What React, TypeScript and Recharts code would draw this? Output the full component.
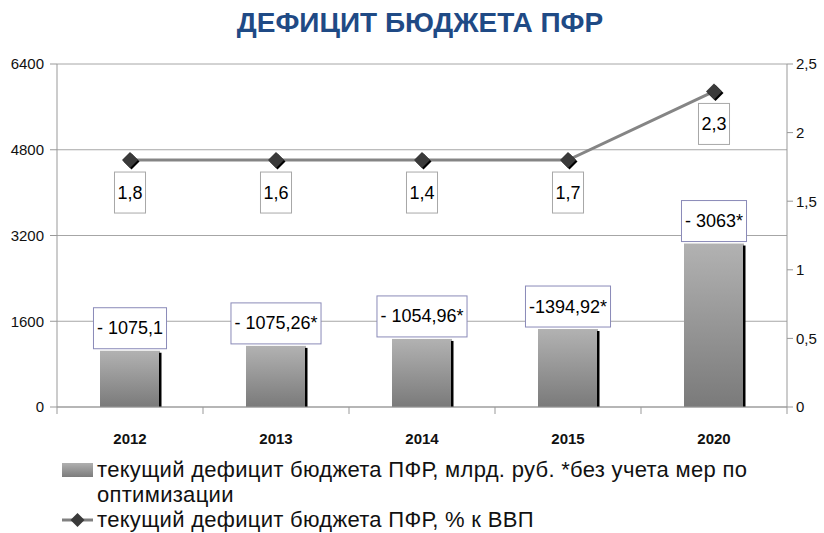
import React from "react";
import {
  Bar,
  CartesianGrid,
  ComposedChart,
  LabelList,
  Legend,
  Line,
  XAxis,
  YAxis
} from "recharts";

// Years on the category axis
const years = ["2012", "2013", "2014", "2015", "2020"];
// Bar heights as drawn (bn rub.)
const deficitBn = [1050, 1140, 1270, 1455, 3050];
// Bar captions as printed
const deficitBnLabels = ["- 1075,1", "- 1075,26*", "- 1054,96*", "-1394,92*", "- 3063*"];
// Line points as drawn (% of GDP)
const deficitGdp = [1.8, 1.8, 1.8, 1.8, 2.3];
// Line captions as printed
const deficitGdpLabels = ["1,8", "1,6", "1,4", "1,7", "2,3"];

const leftTicks = [0, 1600, 3200, 4800, 6400];
const rightTicks = [0, 0.5, 1, 1.5, 2, 2.5];

const data = years.map((year, i) => ({
  year,
  bn: deficitBn[i],
  bnLabel: deficitBnLabels[i],
  gdp: deficitGdp[i],
  gdpLabel: deficitGdpLabels[i]
}));

const FONT = '"Liberation Sans", Arial, sans-serif';

// rough text width of the caption strings (Liberation Sans metrics)
function textWidth(s: string, size: number): number {
  let w = 0;
  for (const ch of s) {
    if (/[0-9]/.test(ch)) w += 0.556;
    else if (ch === "*") w += 0.389;
    else if (ch === "-") w += 0.333;
    else w += 0.278;
  }
  return w * size;
}

function BarShape(props: any) {
  const { x, y, width, height } = props;
  if (height <= 0) return null;
  return (
    <g>
      <rect x={x} y={y} width={width} height={height} fill="url(#barGrad)" />
      <rect x={x + width - 1} y={y + 2} width={2.5} height={height - 2} fill="#000" />
    </g>
  );
}

function BarLabelBox(props: any) {
  const { x, y, width, value } = props;
  const w = textWidth(String(value), 18) + 7;
  const h = 41;
  const cx = x + width / 2;
  const top = y - 2 - h;
  return (
    <g>
      <rect x={cx - w / 2} y={top} width={w} height={h} fill="#fff" stroke="#8a8ab8" strokeWidth={1} />
      <text x={cx} y={top + h / 2 + 6} textAnchor="middle" style={{ fontFamily: FONT }} fontSize={18} fill="#000">
        {value}
      </text>
    </g>
  );
}

function LineLabelBox(props: any) {
  const { x, y, value } = props;
  const w = textWidth(String(value), 18) + 6;
  const h = 41;
  const top = y + 12;
  return (
    <g>
      <rect x={x - w / 2} y={top} width={w} height={h} fill="#fff" stroke="#a8a8a8" strokeWidth={1} />
      <text x={x} y={top + h / 2 + 6} textAnchor="middle" style={{ fontFamily: FONT }} fontSize={18} fill="#000">
        {value}
      </text>
    </g>
  );
}

function Diamond(props: any) {
  const { cx, cy } = props;
  if (cx == null || cy == null) return null;
  const r = 8;
  const pts = (dx: number, dy: number) =>
    `${cx + dx},${cy - r + dy} ${cx + r + dx},${cy + dy} ${cx + dx},${cy + r + dy} ${cx - r + dx},${cy + dy}`;
  return (
    <g>
      <polygon points={pts(1.5, 1.5)} fill="#000" />
      <polygon points={pts(0, 0)} fill="#3a3a3a" />
    </g>
  );
}

function YearTick(props: any) {
  const { x, y, payload, index } = props;
  const half = payload && payload.offset ? payload.offset : 0;
  return (
    <g>
      <line x1={x - half} y1={y - 8} x2={x - half} y2={y - 1} stroke="#999" />
      {index === years.length - 1 && (
        <line x1={x + half} y1={y - 8} x2={x + half} y2={y - 1} stroke="#999" />
      )}
      <text x={x} y={y + 29} textAnchor="middle" style={{ fontFamily: FONT }} fontSize={15} fontWeight="bold" fill="#111">
        {payload.value}
      </text>
    </g>
  );
}

function LegendBox() {
  const textStyle: React.CSSProperties = {
    fontFamily: FONT,
    fontSize: 22,
    letterSpacing: 0.3,
    color: "#111",
    lineHeight: "25px"
  };
  return (
    <div style={{ width: 720 }}>
      <div style={{ display: "flex", alignItems: "flex-start" }}>
        <div
          style={{
            width: 31,
            height: 14,
            marginTop: 6,
            marginRight: 4,
            flex: "none",
            background: "linear-gradient(#b0b0b0, #7c7c7c)"
          }}
        />
        <div style={textStyle}>
          текущий дефицит бюджета ПФР, млрд. руб. *без учета мер по
          <br />
          оптимизации
        </div>
      </div>
      <div style={{ display: "flex", alignItems: "flex-start" }}>
        <svg width={31} height={20} style={{ marginTop: 3, marginRight: 4, flex: "none" }}>
          <line x1={0} y1={10} x2={31} y2={10} stroke="#808080" strokeWidth={3} />
          <polygon points="15.5,3 22.5,10 15.5,17 8.5,10" fill="#3a3a3a" />
        </svg>
        <div style={textStyle}>текущий дефицит бюджета ПФР, % к ВВП</div>
      </div>
    </div>
  );
}

export default function App() {
  return (
    <div style={{ position: "absolute", left: 0, top: 0, width: 824, height: 533, background: "#fff" }}>
      <div
        style={{
          position: "absolute",
          left: 0,
          top: 7,
          width: 840,
          textAlign: "center",
          fontFamily: FONT,
          fontWeight: "bold",
          fontSize: 28,
          color: "#1f4a85"
        }}
      >
        ДЕФИЦИТ БЮДЖЕТА ПФР
      </div>
      <ComposedChart
        width={824}
        height={533}
        data={data}
        margin={{ top: 64, right: 0, bottom: 96, left: 0 }}
        barCategoryGap={0}
      >
        <defs>
          <linearGradient id="barGrad" x1="0" y1="0" x2="0" y2="1">
            <stop offset="0%" stopColor="#b2b2b2" />
            <stop offset="100%" stopColor="#7a7a7a" />
          </linearGradient>
        </defs>
        <CartesianGrid yAxisId="left" vertical={false} stroke="#a6a6a6" />
        <XAxis
          dataKey="year"
          height={30}
          tickLine={false}
          axisLine={{ stroke: "#999" }}
          tick={<YearTick />}
          interval={0}
        />
        <YAxis
          yAxisId="left"
          width={57}
          domain={[0, 6400]}
          ticks={leftTicks}
          interval={0}
          axisLine={{ stroke: "#999" }}
          tickLine={{ stroke: "#999" }}
          tickSize={7}
          tickMargin={6}
          tick={{ style: { fontFamily: FONT }, fontSize: 15, fill: "#111" }}
        />
        <YAxis
          yAxisId="right"
          orientation="right"
          width={37}
          domain={[0, 2.5]}
          ticks={rightTicks}
          interval={0}
          axisLine={{ stroke: "#999" }}
          tickLine={{ stroke: "#999" }}
          tickSize={6}
          tickMargin={3}
          tickFormatter={(v: number) => String(v).replace(".", ",")}
          tick={{ style: { fontFamily: FONT }, fontSize: 15, fill: "#111" }}
        />
        <Bar yAxisId="left" dataKey="bn" barSize={60} shape={<BarShape />} isAnimationActive={false}>
          <LabelList dataKey="bnLabel" content={<BarLabelBox />} />
        </Bar>
        <Line
          yAxisId="right"
          dataKey="gdp"
          stroke="#858585"
          strokeWidth={3}
          dot={<Diamond />}
          activeDot={false}
          isAnimationActive={false}
        >
          <LabelList dataKey="gdpLabel" content={<LineLabelBox />} />
        </Line>
        <Legend
          layout="horizontal"
          verticalAlign="middle"
          align="center"
          wrapperStyle={{ position: "absolute", left: 62, top: 457, width: 720 }}
          content={<LegendBox />}
        />
      </ComposedChart>
    </div>
  );
}
